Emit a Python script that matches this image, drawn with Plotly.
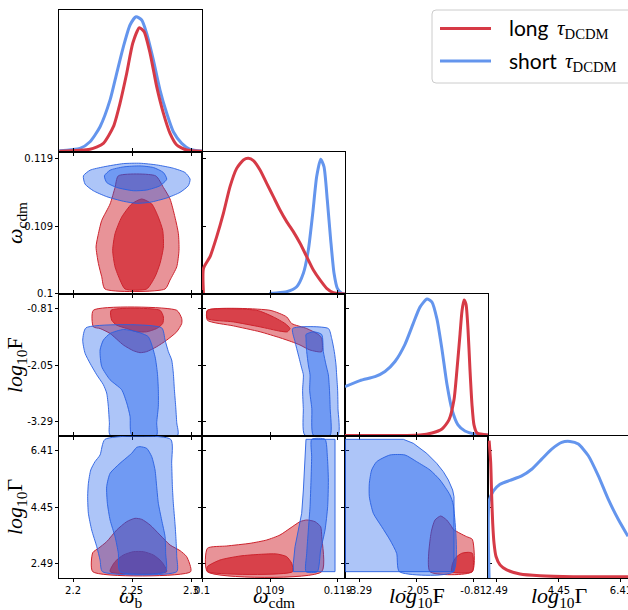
import plotly.graph_objects as go

W, H = 628, 610

# ---------------- tick labels / axis ranges ----------------
WB_TICKS = [2.2, 2.25, 2.3]
WB_TICKTEXT = ["2.2", "2.25", "2.3"]
WCDM_TICKS = [0.0998, 0.1094, 0.1190]
WCDM_TICKTEXT = ["0.1", "0.109", "0.119"]
LF_TICKS = [-3.29, -2.05, -0.81]
LF_TICKTEXT = ["-3.29", "-2.05", "-0.81"]
LG_TICKS = [2.49, 4.45, 6.41]
LG_TICKTEXT = ["2.49", "4.45", "6.41"]

WB_RANGE = [2.1881, 2.3093]
WCDM_RANGE = [0.09979, 0.11999]
LF_RANGE = [-3.601, -0.490]
LG_RANGE_Y = [2.005, 6.918]
LG_RANGE_X = [2.215, 6.631]
PDF_RANGE = [0, 1.05]

# ---------------- 1D marginals ----------------
WB_GRID_BLUE = [2.1884, 2.2059, 2.2144, 2.2229, 2.2314, 2.2370, 2.2427, 2.2483, 2.2534, 2.2582,
                2.2624, 2.2681, 2.2737, 2.2794, 2.2850, 2.2921, 2.2992, 2.3093]
WB_PDF_BLUE = [0.010, 0.027, 0.076, 0.187, 0.385, 0.582, 0.779, 0.939, 1.000, 0.976,
               0.877, 0.680, 0.458, 0.286, 0.150, 0.064, 0.020, 0.008]
WB_GRID_RED = [2.1884, 2.2144, 2.2257, 2.2342, 2.2398, 2.2455, 2.2506, 2.2562, 2.2602, 2.2653,
               2.2709, 2.2766, 2.2822, 2.2879, 2.2963, 2.3093]
WB_PDF_RED = [0.005, 0.020, 0.064, 0.187, 0.360, 0.582, 0.804, 0.919, 0.890, 0.730,
              0.483, 0.286, 0.138, 0.052, 0.015, 0.005]

WCDM_GRID_RED = [0.1000, 0.1000, 0.10093, 0.10187, 0.10281, 0.10375, 0.10469, 0.10564, 0.10634,
                 0.10705, 0.10799, 0.10893, 0.10987, 0.11081, 0.11175, 0.11269, 0.11364, 0.11458,
                 0.11552, 0.11646, 0.11740, 0.11834, 0.11999]
WCDM_PDF_RED = [0.0, 0.190, 0.276, 0.424, 0.596, 0.794, 0.929, 0.991, 1.003,
                0.986, 0.917, 0.818, 0.720, 0.621, 0.535, 0.461, 0.375, 0.276,
                0.177, 0.104, 0.042, 0.010, 0.0]
WCDM_GRID_BLUE = [0.1093, 0.10964, 0.11175, 0.11317, 0.11411, 0.11481, 0.11543, 0.11599, 0.11655,
                  0.11702, 0.11749, 0.11797, 0.11844, 0.11891, 0.11952, 0.11999]
WCDM_PDF_BLUE = [0.0, 0.005, 0.017, 0.054, 0.153, 0.325, 0.596, 0.868, 0.996,
                 0.942, 0.695, 0.399, 0.153, 0.042, 0.005, 0.0]

LF_GRID_BLUE = [-3.601, -3.275, -2.949, -2.731, -2.513, -2.296, -2.122, -1.970, -1.817, -1.709,
                -1.600, -1.491, -1.382, -1.273, -1.143, -0.991, -0.773, -0.490]
LF_PDF_BLUE = [0.365, 0.410, 0.439, 0.477, 0.551, 0.678, 0.827, 0.953, 1.013, 0.990,
               0.864, 0.640, 0.380, 0.194, 0.082, 0.037, 0.015, 0.007]
LF_GRID_RED = [-3.601, -1.970, -1.709, -1.491, -1.339, -1.230, -1.165, -1.099, -1.056, -1.012,
               -0.969, -0.925, -0.882, -0.838, -0.795, -0.730, -0.490]
LF_PDF_RED = [0.004, 0.007, 0.022, 0.052, 0.119, 0.268, 0.491, 0.752, 0.923, 1.005,
              0.975, 0.789, 0.491, 0.231, 0.082, 0.022, 0.007]

LG_GRID_RED = [2.25, 2.300, 2.331, 2.363, 2.405, 2.468, 2.594, 2.805, 3.225, 3.856, 4.907, 6.631]
LG_PDF_RED = [1.015, 0.854, 0.606, 0.407, 0.258, 0.159, 0.097, 0.060, 0.030, 0.017, 0.010, 0.010]
LG_GRID_BLUE = [2.25, 2.25, 2.384, 2.594, 2.910, 3.278, 3.593, 3.909, 4.224, 4.539, 4.802, 5.065,
                5.380, 5.696, 6.011, 6.327, 6.631]
LG_PDF_BLUE = [0.0, 0.568, 0.643, 0.693, 0.722, 0.755, 0.804, 0.879, 0.953, 1.003, 1.010, 0.990,
               0.904, 0.755, 0.581, 0.432, 0.308]

# ---------------- 2D contours: omega_b vs omega_cdm ----------------
P21_RED_OUT_X = [2.2384, 2.2700, 2.2766, 2.2822, 2.2864, 2.2893, 2.2898, 2.2879, 2.2822, 2.2780,
                 2.2271, 2.2243, 2.2215, 2.2195, 2.2209, 2.2243, 2.2314, 2.2356]
P21_RED_OUT_Y = [0.1166, 0.1166, 0.11495, 0.11331, 0.11072, 0.10837, 0.10601, 0.10366, 0.10178, 0.1005,
                 0.1005, 0.10225, 0.10413, 0.10648, 0.10790, 0.11025, 0.11260, 0.11495]
P21_RED_IN_X = [2.2582, 2.2667, 2.2723, 2.2760, 2.2766, 2.2737, 2.2695, 2.2624, 2.2441, 2.2398,
                2.2356, 2.2336, 2.2356, 2.2412, 2.2497]
P21_RED_IN_Y = [0.11331, 0.11260, 0.11072, 0.10884, 0.10648, 0.10413, 0.10225, 0.1005, 0.1005, 0.10178,
                0.10366, 0.10601, 0.10837, 0.11072, 0.11260]
P21_BLUE_OUT_X = [2.2088, 2.2144, 2.2257, 2.2427, 2.2568, 2.2709, 2.2850, 2.2949, 2.2992, 2.2977,
                  2.2907, 2.2794, 2.2653, 2.2540, 2.2427, 2.2285, 2.2172, 2.2102]
P21_BLUE_OUT_Y = [0.1166, 0.1174, 0.11787, 0.11834, 0.11839, 0.11815, 0.11768, 0.11707, 0.11613, 0.11519,
                  0.11425, 0.11345, 0.11284, 0.11269, 0.11298, 0.11364, 0.11448, 0.11542]
P21_BLUE_IN_X = [2.2266, 2.2314, 2.2427, 2.2568, 2.2681, 2.2766, 2.2794, 2.2737, 2.2624, 2.2511,
                 2.2370, 2.2285]
P21_BLUE_IN_Y = [0.1166, 0.1174, 0.11787, 0.11801, 0.11778, 0.11707, 0.11613, 0.11519, 0.11458, 0.11448,
                 0.11495, 0.11566]

# ---------------- omega_b vs log10F ----------------
P31_RED_OUT_X = [2.2172, 2.2879, 2.2921, 2.2921, 2.2879, 2.2794, 2.2709, 2.2624, 2.2568, 2.2511,
                 2.2427, 2.2314, 2.2229, 2.2172]
P31_RED_OUT_Y = [-0.847, -0.847, -1.028, -1.137, -1.318, -1.500, -1.645, -1.753, -1.775, -1.732,
                 -1.608, -1.355, -1.246, -1.210]
P31_RED_IN_X = [2.2322, 2.2737, 2.2766, 2.2760, 2.2709, 2.2624, 2.2540, 2.2455, 2.2370, 2.2328]
P31_RED_IN_Y = [-0.847, -0.847, -0.992, -1.137, -1.246, -1.318, -1.318, -1.246, -1.173, -1.065]
P31_BLUE_OUT_X = [2.2110, 2.2751, 2.2780, 2.2808, 2.2836, 2.2850, 2.2859, 2.2870, 2.2879, 2.2887,
                  2.2314, 2.2308, 2.2299, 2.2285, 2.2257, 2.2201, 2.2144, 2.2102, 2.2082]
P31_BLUE_OUT_Y = [-1.231, -1.231, -1.500, -1.753, -1.935, -2.225, -2.587, -2.950, -3.312, -3.581,
                  -3.581, -3.312, -2.950, -2.660, -2.478, -2.261, -2.007, -1.790, -1.500]
P31_BLUE_IN_X = [2.2314, 2.2427, 2.2540, 2.2638, 2.2695, 2.2715, 2.2723, 2.2723, 2.2709, 2.2709,
                 2.2497, 2.2483, 2.2455, 2.2412, 2.2314, 2.2243, 2.2229, 2.2257]
P31_BLUE_IN_Y = [-1.355, -1.267, -1.318, -1.427, -1.862, -2.225, -2.587, -2.950, -3.312, -3.581,
                 -3.581, -3.167, -2.877, -2.587, -2.370, -2.080, -1.717, -1.500]

# ---------------- omega_b vs log10Gamma ----------------
P41_RED_OUT_X = [2.2167, 2.2167, 2.2215, 2.2285, 2.2370, 2.2455, 2.2525, 2.2582, 2.2653, 2.2737,
                 2.2822, 2.2907, 2.2963, 2.2997]
P41_RED_OUT_Y = [2.224, 2.882, 3.032, 3.262, 3.666, 3.954, 4.070, 4.035, 3.839, 3.493,
                 3.147, 2.951, 2.743, 2.224]
P41_RED_IN_X = [2.2314, 2.2356, 2.2427, 2.2511, 2.2596, 2.2681, 2.2751, 2.2794]
P41_RED_IN_Y = [2.224, 2.570, 2.801, 2.916, 2.916, 2.801, 2.570, 2.224]
P41_BLUE_OUT_X = [2.2271, 2.2828, 2.2836, 2.2842, 2.2850, 2.2864, 2.2873, 2.2879, 2.2879, 2.2249,
                  2.2229, 2.2201, 2.2158, 2.2130, 2.2124, 2.2130, 2.2150, 2.2186, 2.2229]
P41_BLUE_OUT_Y = [6.803, 6.803, 5.973, 5.165, 4.589, 3.897, 3.320, 2.743, 2.224, 2.224,
                  2.628, 3.089, 3.666, 4.243, 4.819, 5.281, 5.742, 6.030, 6.261]
P41_BLUE_IN_X = [2.2540, 2.2568, 2.2624, 2.2667, 2.2695, 2.2709, 2.2723, 2.2751, 2.2780, 2.2785,
                 2.2785, 2.2398, 2.2384, 2.2356, 2.2314, 2.2291, 2.2285, 2.2314, 2.2398, 2.2497]
P41_BLUE_IN_Y = [6.526, 6.550, 6.492, 6.204, 5.742, 5.165, 4.589, 4.012, 3.435, 2.859,
                 2.224, 2.224, 2.859, 3.435, 4.012, 4.589, 5.165, 5.627, 5.973, 6.319]

# ---------------- omega_cdm vs log10F ----------------
P32_RED_OUT_X = [0.10055, 0.10940, 0.11175, 0.11246, 0.11458, 0.11622, 0.11670, 0.11670, 0.11505,
                 0.11364, 0.11246, 0.11081, 0.10799, 0.10422, 0.10055]
P32_RED_OUT_Y = [-0.847, -0.847, -0.992, -1.137, -1.246, -1.376, -1.463, -1.753, -1.717,
                 -1.608, -1.536, -1.449, -1.318, -1.188, -1.065]
P32_RED_IN_X = [0.10055, 0.10752, 0.10987, 0.11152, 0.11222, 0.11185, 0.11081, 0.10799, 0.10422, 0.10055]
P32_RED_IN_Y = [-0.847, -0.847, -0.992, -1.137, -1.246, -1.318, -1.304, -1.210, -1.101, -1.028]
P32_BLUE_OUT_X = [0.11260, 0.11764, 0.11811, 0.11848, 0.11872, 0.11881, 0.11895, 0.11900, 0.11900,
                  0.11430, 0.11410, 0.11400, 0.11411, 0.11387, 0.11340, 0.11293]
P32_BLUE_OUT_Y = [-1.246, -1.246, -1.463, -1.753, -2.043, -2.261, -2.600, -3.000, -3.580,
                  -3.580, -3.000, -2.600, -2.261, -2.116, -1.826, -1.536]
P32_BLUE_IN_X = [0.11448, 0.11552, 0.11670, 0.11693, 0.11731, 0.11764, 0.11780, 0.11790, 0.11790,
                 0.11550, 0.11530, 0.11500, 0.11505, 0.11481, 0.11458, 0.11448]
P32_BLUE_IN_Y = [-1.376, -1.318, -1.376, -1.753, -2.043, -2.261, -2.600, -3.000, -3.580,
                 -3.580, -3.000, -2.600, -2.261, -2.043, -1.753, -1.463]

# ---------------- omega_cdm vs log10Gamma ----------------
P42_RED_OUT_X = [0.10055, 0.10055, 0.10328, 0.10658, 0.10893, 0.11081, 0.11222, 0.11364, 0.11458,
                 0.11575, 0.11655, 0.11670, 0.11670]
P42_RED_OUT_Y = [2.224, 3.032, 3.112, 3.205, 3.320, 3.493, 3.724, 3.954, 4.012,
                 3.954, 3.781, 3.435, 2.224]
P42_RED_IN_X = [0.10055, 0.10055, 0.10234, 0.10517, 0.10799, 0.11034, 0.11175, 0.11246, 0.11260]
P42_RED_IN_Y = [2.224, 2.397, 2.628, 2.766, 2.824, 2.836, 2.743, 2.513, 2.224]
P42_BLUE_OUT_X = [0.11448, 0.11858, 0.11858, 0.11269, 0.11269, 0.11293, 0.11340, 0.11387, 0.11411, 0.11434]
P42_BLUE_OUT_Y = [6.803, 6.803, 2.224, 2.224, 2.513, 3.089, 3.666, 4.243, 5.050, 5.973]
P42_BLUE_IN_X = [0.11528, 0.11717, 0.11750, 0.11764, 0.11754, 0.11717, 0.11655, 0.11608, 0.11448,
                 0.11458, 0.11481, 0.11505, 0.11519, 0.11528]
P42_BLUE_IN_Y = [6.803, 6.803, 6.204, 5.396, 4.473, 3.666, 2.974, 2.224, 2.224,
                 2.859, 3.666, 4.473, 5.396, 6.204]

# ---------------- log10F vs log10Gamma ----------------
P43_RED_OUT_X = [-1.752, -1.730, -1.643, -1.520, -1.389, -1.281, -1.245, -1.099, -0.954, -0.831, -0.831]
P43_RED_OUT_Y = [2.224, 3.551, 4.012, 4.150, 4.012, 3.781, 3.689, 3.551, 3.435, 3.343, 2.224]
P43_RED_IN_X = [-1.281, -1.259, -1.186, -1.063, -0.918, -0.831, -0.831]
P43_RED_IN_Y = [2.224, 2.513, 2.720, 2.859, 2.893, 2.859, 2.224]
P43_BLUE_OUT_X = [-3.59, -2.332, -2.115, -1.824, -1.607, -1.462, -1.353, -1.259, -1.230, -1.230, -3.59]
P43_BLUE_OUT_Y = [6.803, 6.803, 6.665, 6.319, 5.973, 5.684, 5.396, 5.050, 4.819, 2.224, 2.224]
P43_BLUE_IN_X = [-3.021, -2.912, -2.622, -2.296, -2.042, -1.752, -1.534, -1.317, -1.245, -1.245,
                 -2.419, -2.477, -2.622, -2.803, -2.985, -3.072, -3.072]
P43_BLUE_IN_Y = [5.742, 6.030, 6.261, 6.261, 6.030, 5.742, 5.396, 4.877, 4.531, 2.224,
                 2.224, 2.859, 3.320, 3.781, 4.243, 4.819, 5.281]

SERIES_NAMES = ["long", "short"]

# ---------------- styles ----------------
RED_LINE = "#d63a46"
BLUE_LINE = "#6495ed"
RED_FILL_OUT = "rgba(210,40,50,0.5)"
RED_FILL_IN = "rgba(210,40,50,0.76)"
RED_EDGE = "rgb(205,35,45)"
BLUE_FILL_OUT = "rgba(20,90,235,0.35)"
BLUE_FILL_IN = "rgba(20,90,235,0.40)"
BLUE_EDGE = "rgba(40,95,225,0.9)"

COL_PX = {1: (59, 202), 2: (202, 345), 3: (345, 488), 4: (488, 628)}
ROW_PX = {1: (10, 152), 2: (152, 294), 3: (294, 436), 4: (436, 578)}
XINFO = {1: (WB_RANGE, WB_TICKS, WB_TICKTEXT),
         2: (WCDM_RANGE, WCDM_TICKS, WCDM_TICKTEXT),
         3: (LF_RANGE, LF_TICKS, LF_TICKTEXT),
         4: (LG_RANGE_X, LG_TICKS, LG_TICKTEXT)}
YINFO = {2: (WCDM_RANGE, WCDM_TICKS, WCDM_TICKTEXT),
         3: (LF_RANGE, LF_TICKS, LF_TICKTEXT),
         4: (LG_RANGE_Y, LG_TICKS, LG_TICKTEXT)}

PANELS = [(1, 1), (2, 1), (2, 2), (3, 1), (3, 2), (3, 3), (4, 1), (4, 2), (4, 3), (4, 4)]
IDX = {p: i + 1 for i, p in enumerate(PANELS)}

fig = go.Figure()


def refs(p):
    i = IDX[p]
    return ("x" if i == 1 else f"x{i}"), ("y" if i == 1 else f"y{i}")


def add_line(p, xs, ys, color):
    xr, yr = refs(p)
    fig.add_trace(go.Scatter(x=xs, y=ys, mode="lines", xaxis=xr, yaxis=yr,
                             line=dict(color=color, width=3, shape="spline", smoothing=0.6),
                             hoverinfo="skip", showlegend=False))


def add_fill(p, xs, ys, fill, edge, shape="spline"):
    xr, yr = refs(p)
    fig.add_trace(go.Scatter(x=list(xs) + [xs[0]], y=list(ys) + [ys[0]], mode="lines",
                             xaxis=xr, yaxis=yr, fill="toself", fillcolor=fill,
                             line=dict(color=edge, width=1, shape=shape, smoothing=0.6),
                             hoverinfo="skip", showlegend=False))


def add_pair(p, ro, ri, bo, bi, bshape="spline"):
    add_fill(p, ro[0], ro[1], RED_FILL_OUT, RED_EDGE)
    add_fill(p, ri[0], ri[1], RED_FILL_IN, RED_EDGE)
    add_fill(p, bo[0], bo[1], BLUE_FILL_OUT, BLUE_EDGE, bshape)
    add_fill(p, bi[0], bi[1], BLUE_FILL_IN, BLUE_EDGE)


# 1D panels
add_line((1, 1), WB_GRID_BLUE, WB_PDF_BLUE, BLUE_LINE)
add_line((1, 1), WB_GRID_RED, WB_PDF_RED, RED_LINE)
add_line((2, 2), WCDM_GRID_BLUE, WCDM_PDF_BLUE, BLUE_LINE)
add_line((2, 2), WCDM_GRID_RED, WCDM_PDF_RED, RED_LINE)
add_line((3, 3), LF_GRID_BLUE, LF_PDF_BLUE, BLUE_LINE)
add_line((3, 3), LF_GRID_RED, LF_PDF_RED, RED_LINE)
add_line((4, 4), LG_GRID_BLUE, LG_PDF_BLUE, BLUE_LINE)
add_line((4, 4), LG_GRID_RED, LG_PDF_RED, RED_LINE)

# 2D panels
add_pair((2, 1), (P21_RED_OUT_X, P21_RED_OUT_Y), (P21_RED_IN_X, P21_RED_IN_Y),
         (P21_BLUE_OUT_X, P21_BLUE_OUT_Y), (P21_BLUE_IN_X, P21_BLUE_IN_Y))
add_pair((3, 1), (P31_RED_OUT_X, P31_RED_OUT_Y), (P31_RED_IN_X, P31_RED_IN_Y),
         (P31_BLUE_OUT_X, P31_BLUE_OUT_Y), (P31_BLUE_IN_X, P31_BLUE_IN_Y))
add_pair((4, 1), (P41_RED_OUT_X, P41_RED_OUT_Y), (P41_RED_IN_X, P41_RED_IN_Y),
         (P41_BLUE_OUT_X, P41_BLUE_OUT_Y), (P41_BLUE_IN_X, P41_BLUE_IN_Y))
add_pair((3, 2), (P32_RED_OUT_X, P32_RED_OUT_Y), (P32_RED_IN_X, P32_RED_IN_Y),
         (P32_BLUE_OUT_X, P32_BLUE_OUT_Y), (P32_BLUE_IN_X, P32_BLUE_IN_Y))
add_pair((4, 2), (P42_RED_OUT_X, P42_RED_OUT_Y), (P42_RED_IN_X, P42_RED_IN_Y),
         (P42_BLUE_OUT_X, P42_BLUE_OUT_Y), (P42_BLUE_IN_X, P42_BLUE_IN_Y), "linear")
add_pair((4, 3), (P43_RED_OUT_X, P43_RED_OUT_Y), (P43_RED_IN_X, P43_RED_IN_Y),
         (P43_BLUE_OUT_X, P43_BLUE_OUT_Y), (P43_BLUE_IN_X, P43_BLUE_IN_Y), "linear")

# axes
TICKFONT = dict(family="DejaVu Sans", size=10, color="black")
layout_axes = {}
for p in PANELS:
    r, c = p
    i = IDX[p]
    xk = "xaxis" if i == 1 else f"xaxis{i}"
    yk = "yaxis" if i == 1 else f"yaxis{i}"
    xr, yr = refs(p)
    x0, x1 = COL_PX[c]
    y0, y1 = ROW_PX[r]
    diag = (r == c)
    xrng, xt, xtt = XINFO[c]
    base = dict(showline=True, linecolor="black", linewidth=1, showgrid=False, zeroline=False,
                tickcolor="black", tickwidth=1, ticklen=3, tickfont=TICKFONT, fixedrange=True)
    layout_axes[xk] = dict(base, domain=[x0 / W, x1 / W], range=xrng, tickmode="array",
                           tickvals=xt, ticktext=xtt, ticks="outside",
                           showticklabels=(r == 4), anchor=yr, ticklabeloverflow="allow",
                           mirror=(True if diag else "ticks"))
    if diag:
        layout_axes[yk] = dict(base, domain=[1 - y1 / H, 1 - y0 / H], range=PDF_RANGE,
                               ticks="", showticklabels=False, anchor=xr,
                               mirror=(False if r == 4 else True))
    else:
        yrng, yt, ytt = YINFO[r]
        layout_axes[yk] = dict(base, domain=[1 - y1 / H, 1 - y0 / H], range=yrng,
                               tickmode="array", tickvals=yt, ticktext=ytt, ticks="outside",
                               showticklabels=(c == 1), anchor=xr, mirror="ticks")

fig.update_layout(**layout_axes)

# axis titles
LABELS = ["<i>ω</i><sub>b</sub>", "<i>ω</i><sub>cdm</sub>",
          "<i>log</i><sub>10</sub>F", "<i>log</i><sub>10</sub>Γ"]
LABEL_FONT = dict(family="Liberation Serif", size=22, color="black")
annotations = []
for c in range(1, 5):
    x0, x1 = COL_PX[c]
    cx = (x0 + 143 / 2) if c == 4 else (x0 + x1) / 2
    annotations.append(dict(text=LABELS[c - 1], x=cx / W, y=1 - 597 / H, xref="paper", yref="paper",
                            xanchor="center", yanchor="middle", showarrow=False, font=LABEL_FONT))
for r in range(2, 5):
    y0, y1 = ROW_PX[r]
    annotations.append(dict(text=LABELS[r - 1], x=16 / W, y=1 - (y0 + y1) / 2 / H, xref="paper",
                            yref="paper", xanchor="center", yanchor="middle", textangle=-90,
                            showarrow=False, font=LABEL_FONT))

# legend (drawn manually)
LEG_FONT = dict(family="Lato", size=21, color="black")
TAU_FONT = dict(family="Liberation Serif", size=21, color="black")
leg_rows = [(28.5, RED_LINE, 555), (61.0, BLUE_LINE, 563)]
shapes = []
lx0, lx1 = 432 / W, 1.02
ly0, ly1 = 1 - 83 / H, 1 - 10 / H
rx, ry = 4 / W, 4 / H
shapes.append(dict(type="path", xref="paper", yref="paper", layer="above",
                   path=(f"M {lx0 + rx},{ly1} L {lx1},{ly1} L {lx1},{ly0} L {lx0 + rx},{ly0} "
                         f"Q {lx0},{ly0} {lx0},{ly0 + ry} L {lx0},{ly1 - ry} Q {lx0},{ly1} {lx0 + rx},{ly1} Z"),
                   fillcolor="white", line=dict(color="#cccccc", width=1)))
for name, (ly, col, tx) in zip(SERIES_NAMES, leg_rows):
    shapes.append(dict(type="line", xref="paper", yref="paper", layer="above",
                       x0=440 / W, x1=491 / W, y0=1 - ly / H, y1=1 - ly / H,
                       line=dict(color=col, width=3)))
    annotations.append(dict(text=name, x=507 / W, y=1 - (ly - 1) / H, xref="paper", yref="paper",
                            xanchor="left", yanchor="middle", showarrow=False, font=LEG_FONT))
    annotations.append(dict(text="<i>τ</i><sub>DCDM</sub>", x=tx / W, y=1 - (ly + 1) / H,
                            xref="paper", yref="paper", xanchor="left", yanchor="middle",
                            showarrow=False, font=TAU_FONT))

fig.update_layout(width=W, height=H, margin=dict(l=0, r=0, t=0, b=0, autoexpand=False),
                  paper_bgcolor="white", plot_bgcolor="white", showlegend=False,
                  annotations=annotations, shapes=shapes, hovermode=False)

fig.write_html("out.html", config={"displayModeBar": False})
